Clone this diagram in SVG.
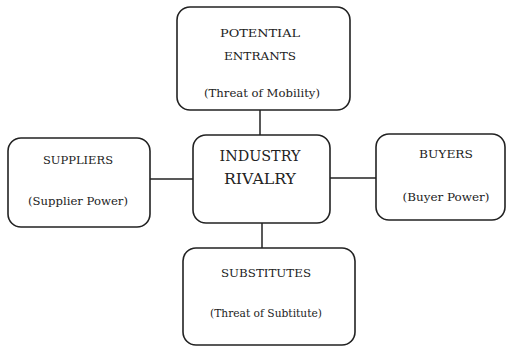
<svg xmlns="http://www.w3.org/2000/svg" width="513" height="352" viewBox="0 0 513 352">
<style>
.box{fill:#fff;stroke:#222;stroke-width:1.6}
.t{font-family:'DejaVu Serif','Liberation Serif',serif;font-size:11px;fill:#222;text-anchor:middle}
.big{font-size:15px}
.c{stroke:#222;stroke-width:1.5;fill:none}
</style>
<rect width="513" height="352" fill="#fff"/>
<g id="connectors">
<line class="c" x1="260" y1="110" x2="260" y2="135"/>
<line class="c" x1="150" y1="179" x2="193" y2="179"/>
<line class="c" x1="330" y1="178" x2="376" y2="178"/>
<line class="c" x1="262" y1="223" x2="262" y2="248"/>
</g>
<g id="potential-entrants">
<rect class="box" x="177" y="7" width="173" height="103" rx="13"/>
<text class="t" x="260" y="37" textLength="80" lengthAdjust="spacingAndGlyphs">POTENTIAL</text>
<text class="t" x="260" y="60" textLength="72" lengthAdjust="spacingAndGlyphs">ENTRANTS</text>
<text class="t" x="262" y="97" textLength="116" lengthAdjust="spacingAndGlyphs">(Threat of Mobility)</text>
</g>
<g id="industry-rivalry">
<rect class="box" x="193" y="135" width="137" height="88" rx="13"/>
<text class="t big" x="260" y="161" textLength="81" lengthAdjust="spacingAndGlyphs">INDUSTRY</text>
<text class="t big" x="260" y="184" textLength="72" lengthAdjust="spacingAndGlyphs">RIVALRY</text>
</g>
<g id="suppliers">
<rect class="box" x="8" y="138" width="142" height="89" rx="13"/>
<text class="t" x="78" y="164" textLength="70" lengthAdjust="spacingAndGlyphs">SUPPLIERS</text>
<text class="t" x="78" y="205" textLength="100" lengthAdjust="spacingAndGlyphs">(Supplier Power)</text>
</g>
<g id="buyers">
<rect class="box" x="376" y="134" width="129" height="86" rx="13"/>
<text class="t" x="446" y="158" textLength="54" lengthAdjust="spacingAndGlyphs">BUYERS</text>
<text class="t" x="446" y="201" textLength="87" lengthAdjust="spacingAndGlyphs">(Buyer Power)</text>
</g>
<g id="substitutes">
<rect class="box" x="183" y="248" width="172" height="97" rx="13"/>
<text class="t" x="266" y="277" textLength="90" lengthAdjust="spacingAndGlyphs">SUBSTITUTES</text>
<text class="t" x="266" y="317" textLength="112" lengthAdjust="spacingAndGlyphs">(Threat of Subtitute)</text>
</g>
</svg>
